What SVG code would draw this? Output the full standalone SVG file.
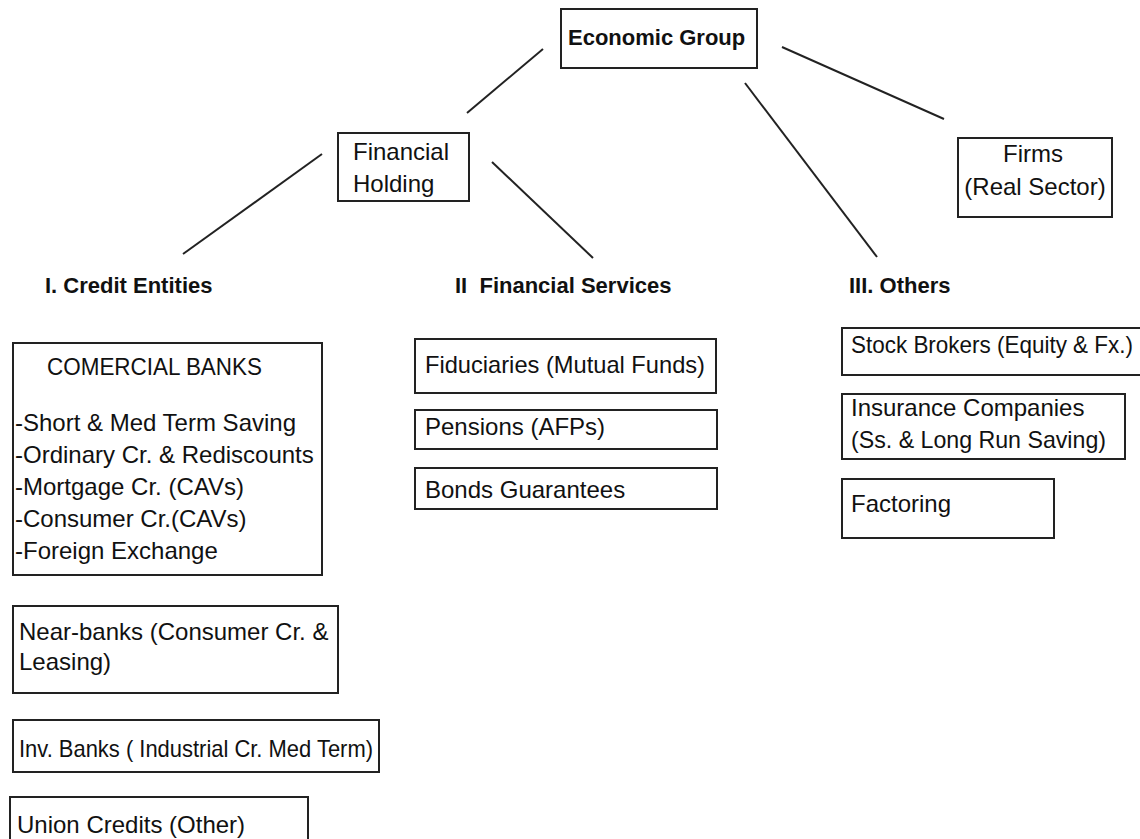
<svg xmlns="http://www.w3.org/2000/svg" width="1140" height="839" viewBox="0 0 1140 839">
<style>
rect{fill:#fff;stroke:#222;stroke-width:2}
line{stroke:#222;stroke-width:2}
text{font-family:"Liberation Sans",Arial,sans-serif;font-size:24px;fill:#111}
.b{font-weight:bold;font-size:22px}
.m{text-anchor:middle}
</style>
<rect width="1140" height="839" style="fill:#fff;stroke:none"/>
<g id="connectors">
<line x1="543" y1="49" x2="467" y2="113"/>
<line x1="745" y1="83" x2="877" y2="257"/>
<line x1="782" y1="47" x2="944" y2="119"/>
<line x1="322" y1="154" x2="183" y2="254"/>
<line x1="492" y1="162" x2="593" y2="258"/>
</g>
<g id="economic-group"><rect x="561" y="9" width="196" height="59"/><text class="b" x="568" y="45">Economic Group</text></g>
<g id="financial-holding"><rect x="338" y="133" width="131" height="68"/><text x="353" y="160">Financial</text><text x="353" y="192">Holding</text></g>
<g id="firms"><rect x="958" y="138" width="154" height="79"/><text class="m" x="1033" y="162">Firms</text><text class="m" x="1035" y="195">(Real Sector)</text></g>
<g id="credit-entities"><text class="b" x="45" y="293">I. Credit Entities</text></g>
<g id="financial-services"><text class="b" x="455" y="293" xml:space="preserve">II  Financial Services</text></g>
<g id="others"><text class="b" x="849" y="293">III. Others</text></g>
<g id="commercial-banks"><rect x="13" y="343" width="309" height="232"/>
<text x="47" y="375" textLength="215" lengthAdjust="spacingAndGlyphs">COMERCIAL BANKS</text>
<text x="15" y="431">-Short &amp; Med Term Saving</text>
<text x="15" y="463">-Ordinary Cr. &amp; Rediscounts</text>
<text x="15" y="495">-Mortgage Cr. (CAVs)</text>
<text x="15" y="527">-Consumer Cr.(CAVs)</text>
<text x="15" y="559">-Foreign Exchange</text></g>
<g id="near-banks"><rect x="13" y="606" width="325" height="87"/><text x="19" y="640">Near-banks (Consumer Cr. &amp;</text><text x="19" y="670">Leasing)</text></g>
<g id="inv-banks"><rect x="13" y="720" width="366" height="52"/><text x="19" y="757" textLength="354" lengthAdjust="spacingAndGlyphs">Inv. Banks ( Industrial Cr. Med Term)</text></g>
<g id="union-credits"><rect x="10" y="797" width="298" height="60"/><text x="17" y="833">Union Credits (Other)</text></g>
<g id="fiduciaries"><rect x="415" y="339" width="301" height="54"/><text x="425" y="373" textLength="280" lengthAdjust="spacingAndGlyphs">Fiduciaries (Mutual Funds)</text></g>
<g id="pensions"><rect x="415" y="410" width="302" height="39"/><text x="425" y="435">Pensions (AFPs)</text></g>
<g id="bonds"><rect x="415" y="468" width="302" height="41"/><text x="425" y="498">Bonds Guarantees</text></g>
<g id="stock-brokers"><rect x="842" y="328" width="300" height="47"/><text x="851" y="353" textLength="282" lengthAdjust="spacingAndGlyphs">Stock Brokers (Equity &amp; Fx.)</text></g>
<g id="insurance"><rect x="842" y="394" width="283" height="65"/><text x="851" y="416">Insurance Companies</text><text x="851" y="448" textLength="255" lengthAdjust="spacingAndGlyphs">(Ss. &amp; Long Run Saving)</text></g>
<g id="factoring"><rect x="842" y="479" width="212" height="59"/><text x="851" y="512">Factoring</text></g>
</svg>
